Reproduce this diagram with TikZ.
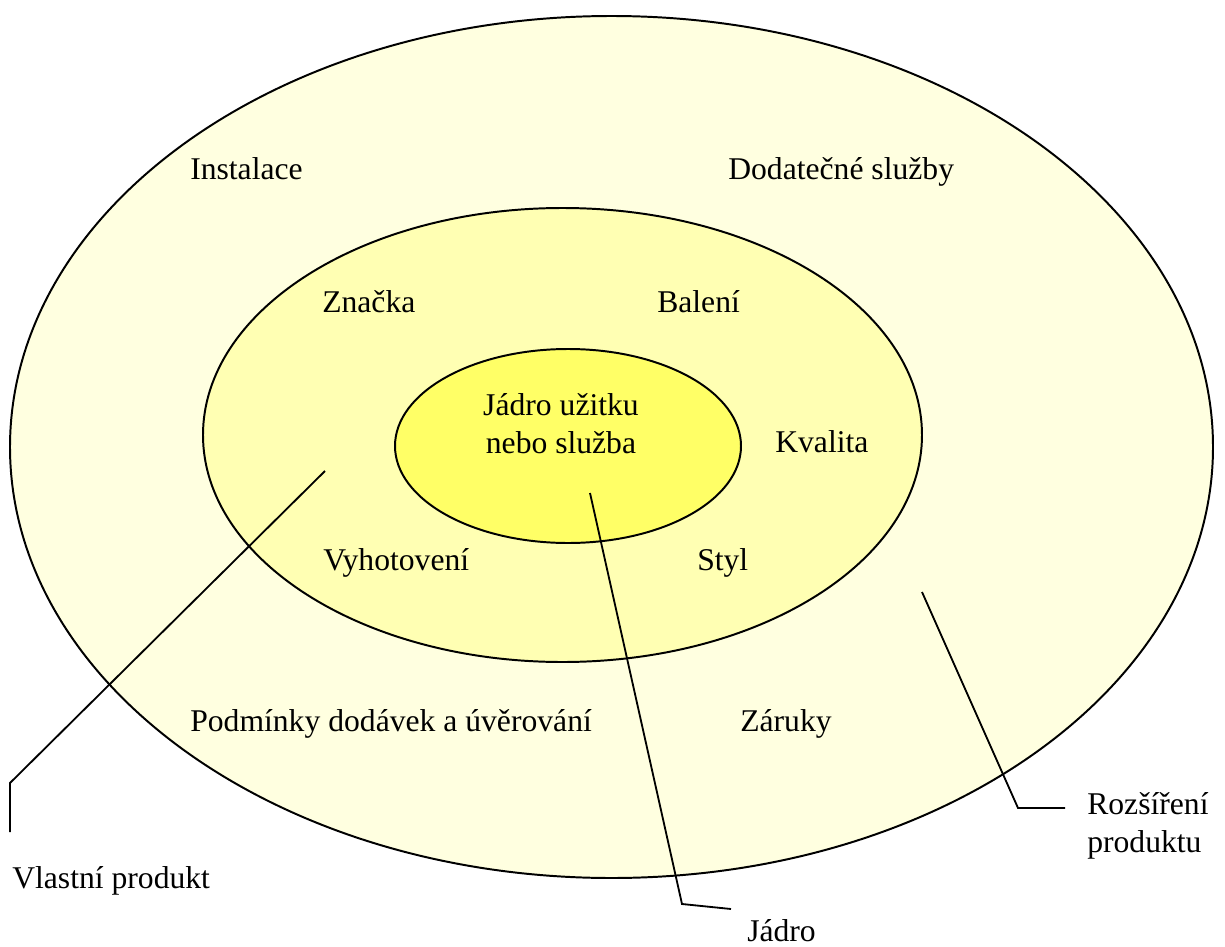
\documentclass[tikz,border=0pt]{standalone}
\usepackage{fontspec}
\setmainfont{Liberation Serif}
\usepackage{xcolor}
\definecolor{outercol}{HTML}{FFFFE0}
\definecolor{middlecol}{HTML}{FFFFB3}
\definecolor{corecol}{HTML}{FFFF66}
\tikzstyle{level}=[draw=black,line width=1.4]
\tikzstyle{label}=[anchor=base west,inner sep=0,font=\fontsize{22.5}{27}\selectfont]
\tikzstyle{callout}=[draw=black,line width=1.3]

\begin{document}
\begin{tikzpicture}[x=0.025cm,y=-0.025cm]
  \useasboundingbox (0,0) rectangle (1225,947);

  % ELLIPSES
  \draw[level,fill=outercol]  (611.5,447) ellipse [x radius=601.5,y radius=431];
  \draw[level,fill=middlecol] (562.5,435) ellipse [x radius=359.5,y radius=227];
  \draw[level,fill=corecol]   (568,446)   ellipse [x radius=173,y radius=97];

  % LABELS
  \node[label] (inst) at (190,179) {Instalace};
  \node[label] (dodat) at (728,179) {Dodatečné služby};
  \node[label] (znacka) at (322,312) {Značka};
  \node[label] (baleni) at (657,312) {Balení};
  \node[label] (kval) at (775,452) {Kvalita};
  \node[label,anchor=base,align=center] (jadrouz) at (561,453) {Jádro užitku\\nebo služba};
  \node[label] (vyhot) at (323,570) {Vyhotovení};
  \node[label] (styl) at (697,570) {Styl};
  \node[label] (podm) at (190,731) {Podmínky dodávek a úvěrování};
  \node[label] (zaruky) at (740,731) {Záruky};
  \node[label,align=left] (rozs) at (1087,852) {Rozšíření\\produktu};
  \node[label] (vlast) at (12,888) {Vlastní produkt};
  \node[label] (jadro) at (747,941) {Jádro};

  % CALLOUTS
  \coordinate (vl0) at (325,471);
  \coordinate (vl1) at (10,783);
  \coordinate (vl2) at (10,832);
  \draw[callout] (vl0) -- (vl1) -- (vl2);
  \coordinate (ja0) at (590,493);
  \coordinate (ja1) at (682,904);
  \coordinate (ja2) at (731,909);
  \draw[callout] (ja0) -- (ja1) -- (ja2);
  \coordinate (ro0) at (922,592);
  \coordinate (ro1) at (1018,808);
  \coordinate (ro2) at (1065,808);
  \draw[callout] (ro0) -- (ro1) -- (ro2);

\end{tikzpicture}
\end{document}
